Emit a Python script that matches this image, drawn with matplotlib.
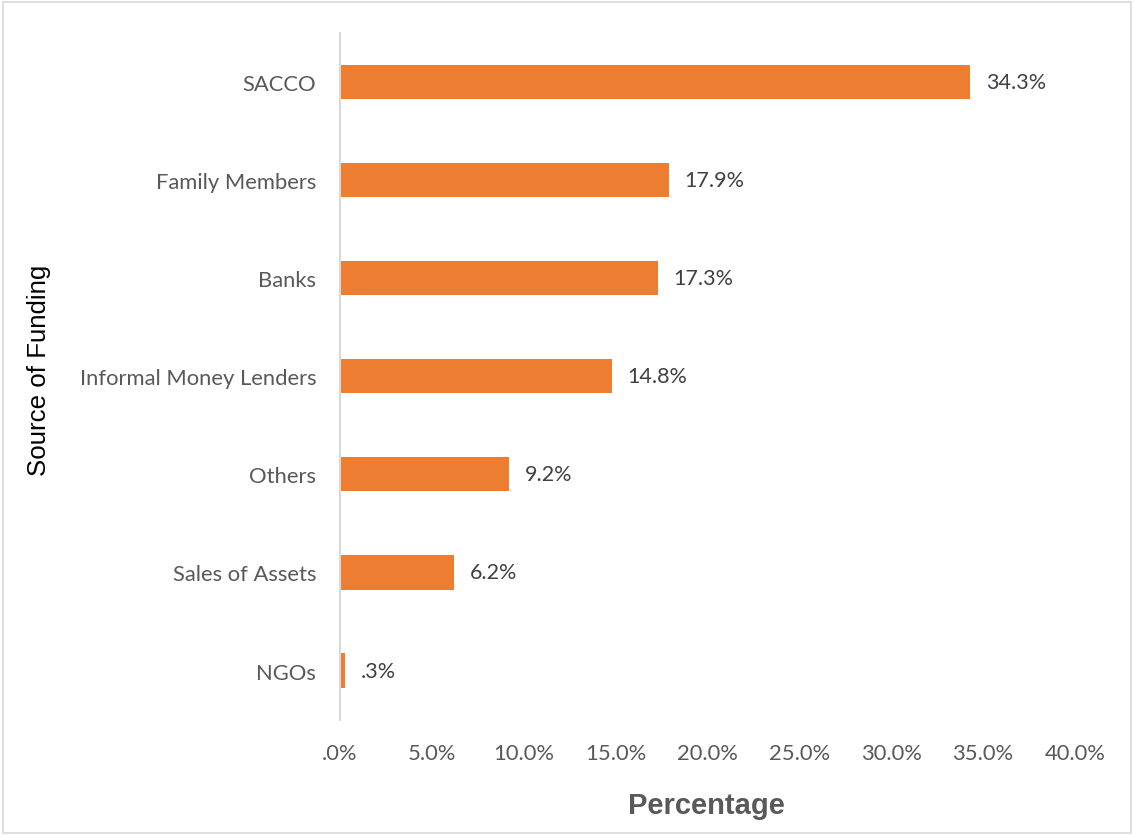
import matplotlib
matplotlib.use("Agg")
import matplotlib.pyplot as plt
from matplotlib.patches import Rectangle
from matplotlib.ticker import FuncFormatter

# Sources of funding, top to bottom, with share of respondents (%)
sources = ["SACCO", "Family Members", "Banks", "Informal Money Lenders",
           "Others", "Sales of Assets", "NGOs"]
shares = [34.3, 17.9, 17.3, 14.8, 9.2, 6.2, 0.3]
x_ticks = [0, 5, 10, 15, 20, 25, 30, 35, 40]

BAR_COLOR = "#ED7D31"
TEXT_GRAY = "#595959"
LABEL_GRAY = "#404040"
LINE_GRAY = "#D9D9D9"

plt.rcParams["font.family"] = ["Lato", "DejaVu Sans"]


def pct(v, _pos=None):
    s = f"{v:.1f}%"
    return s[1:] if s.startswith("0.") else s


fig = plt.figure(figsize=(11.34, 8.37), dpi=100)
ax = fig.add_axes([0.2998, 0.139, 0.6482, 0.8208])

ypos = list(range(len(sources)))[::-1]
ax.barh(ypos, shares, height=0.35, color=BAR_COLOR, zorder=2)

for y, v in zip(ypos, shares):
    ax.text(v + 0.85, y, pct(v), va="center", ha="left",
            fontsize=15.5, color=LABEL_GRAY)

ax.set_xlim(0, 40)
ax.set_ylim(-0.5, len(sources) - 0.5)
ax.set_xticks(x_ticks)
ax.xaxis.set_major_formatter(FuncFormatter(pct))
ax.set_yticks(ypos)
ax.set_yticklabels(sources)
ax.tick_params(axis="both", length=0, labelsize=15.8, labelcolor=TEXT_GRAY)
ax.tick_params(axis="x", pad=17)
ax.tick_params(axis="y", pad=17)

for side in ("top", "right", "bottom"):
    ax.spines[side].set_visible(False)
ax.spines["left"].set_color(LINE_GRAY)
ax.spines["left"].set_linewidth(1.5)

fig.text(0.6226, 0.037, "Percentage", ha="center", va="center",
         fontsize=21, fontweight="bold", color=TEXT_GRAY,
         family=["Liberation Sans", "DejaVu Sans"])
fig.text(0.034, 0.558, "Source of Funding", ha="center", va="center",
         rotation=90, fontsize=18.6, color="black",
         family=["Liberation Sans", "DejaVu Sans"])

# thin frame round the whole chart area
fig.patches.append(Rectangle((0.003, 0.003), 0.994, 0.994, transform=fig.transFigure,
                             fill=False, edgecolor=LINE_GRAY, linewidth=1.2))

fig.savefig("out.png", dpi=100)
